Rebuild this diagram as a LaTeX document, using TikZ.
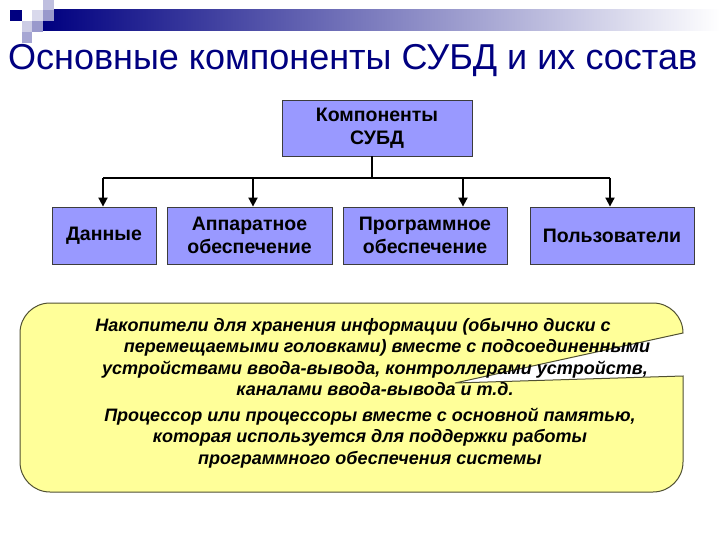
\documentclass[tikz,border=0pt]{standalone}
\usepackage{fontspec}
\setmainfont{Liberation Sans}
\usetikzlibrary{arrows.meta}
\definecolor{mynavy}{RGB}{0,0,128}
\definecolor{myviolet}{RGB}{153,153,255}
\definecolor{myyellow}{RGB}{255,255,153}
\definecolor{myolive}{RGB}{80,80,50}
\definecolor{mygray}{RGB}{60,60,60}

\tikzset{
    compbox/.style={draw=mygray, fill=myviolet, line width=0.8bp, align=center,
        font=\fontsize{19.5bp}{23bp}\selectfont\bfseries, inner sep=0pt},
    link/.style={line width=1.8bp},
    feed/.style={link, -{Triangle[width=9bp, length=9bp]}},
    note/.style={align=center, font=\fontsize{18bp}{21.5bp}\selectfont\bfseries\itshape}
}

\begin{document}
\begin{tikzpicture}[x=1bp, y=-1bp]
    \useasboundingbox (0,0) rectangle (720,540);

    % --- Header decoration (top left)
    \shade[left color=mynavy, right color=white] (43,10) rectangle (720,31);
    \fill[mynavy] (10,10) rectangle (22,21);
    \fill[mynavy!25] (43,0) rectangle (54,10);
    \fill[mynavy!15] (32,10) rectangle (43,21);
    \fill[mynavy!40] (43,10) rectangle (54,21);
    \fill[mynavy!20] (22,21) rectangle (32,32);
    \fill[mynavy!40] (32,21) rectangle (43,32);
    \fill[mynavy!35] (22,32) rectangle (32,43);

    % Title
    \node[anchor=base west, inner sep=0pt, text=mynavy, font=\fontsize{36bp}{40bp}\selectfont]
        (title) at (8,70) {Основные компоненты СУБД и их состав};

    % --- Tree of components
    \node[compbox, minimum width=190bp, minimum height=56bp] (comp) at (377,128) {Компоненты\\СУБД};

    \node[compbox, minimum width=104bp, minimum height=57bp] (data) at (104,235.5) {Данные};
    \node[compbox, minimum width=165bp, minimum height=57bp] (hw) at (249.5,235.5) {Аппаратное\\обеспечение};
    \node[compbox, minimum width=164bp, minimum height=57bp] (sw) at (425,235.5) {Программное\\обеспечение};
    \node[compbox, minimum width=164bp, minimum height=57bp] (users) at (612,235.5) {Пользователи};

    % Bus line and its drops
    \coordinate (hub) at (372,178);
    \coordinate (d1) at (103,178);
    \coordinate (d2) at (253,178);
    \coordinate (d3) at (463,178);
    \coordinate (d4) at (610,178);
    \draw[link] (hub |- comp.south) -- (hub);
    \draw[link] (d1) -- (d4);
    \draw[feed] (d1) -- (d1 |- data.north);
    \draw[feed] (d2) -- (d2 |- hw.north);
    \draw[feed] (d3) -- (d3 |- sw.north);
    \draw[feed] (d4) -- (d4 |- users.north);

    % --- Callout with the description
    \draw[fill=myyellow, draw=myolive, line width=1bp]
        (683,333) -- (455,383) -- (683,376)
        -- (683,462) arc[start angle=0, end angle=90, radius=30]
        -- (50,492) arc[start angle=90, end angle=180, radius=30]
        -- (20,333) arc[start angle=180, end angle=270, radius=30]
        -- (653,303) arc[start angle=270, end angle=360, radius=30] -- cycle;

    \node[note] (store) at (375,357) {Накопители для хранения информации (обычно диски с\hspace*{44bp}\\
        \hspace*{24bp}перемещаемыми головками) вместе с подсоединенными\\
        устройствами ввода-вывода, контроллерами устройств,\\
        каналами ввода-вывода и т.д.};
    \node[note] (cpu) at (370,438) {Процессор или процессоры вместе с основной памятью,\\
        которая используется для поддержки работы\\
        программного обеспечения системы};
\end{tikzpicture}
\end{document}
